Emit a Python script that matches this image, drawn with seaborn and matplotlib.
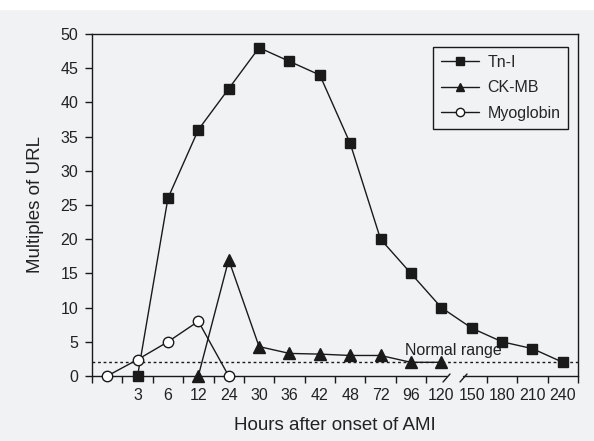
import numpy as np
import pandas as pd
import matplotlib
matplotlib.use("Agg")
import matplotlib.pyplot as plt
from matplotlib.patches import Rectangle
import seaborn as sns

# ── data ──────────────────────────────────────────
slot_labels = ["", "3", "6", "12", "24", "30", "36", "42", "48",
               "72", "96", "120", "150", "180", "210", "240"]

tn_hours = ["3", "6", "12", "24", "30", "36", "42", "48", "72",
            "96", "120", "150", "180", "210", "240"]
tn_values = [0, 26, 36, 42, 48, 46, 44, 34, 20, 15, 10, 7, 5, 4, 2]

ck_hours = ["12", "24", "30", "36", "42", "48", "72", "96", "120"]
ck_values = [0, 17, 4.3, 3.3, 3.2, 3.0, 3.0, 2.0, 2.0]

myo_hours = ["", "3", "6", "12", "24"]
myo_values = [0, 2.4, 5, 8, 0]

normal_level = 2.1

# ── style ─────────────────────────────────────────
bg = "#f1f2f4"
ink = "#1a1a1a"
sns.set_theme(style="white")
plt.rcParams["font.family"] = ["Liberation Sans", "DejaVu Sans"]

slot_of = {lab: i for i, lab in enumerate(slot_labels)}

fig = plt.figure(figsize=(5.94, 4.41), dpi=100, facecolor=bg)
ax = fig.add_axes([0.1549, 0.1474, 0.8182, 0.7755])
ax.set_facecolor(bg)
fig.add_artist(Rectangle((0, 0.979), 1, 0.021, transform=fig.transFigure,
                         color="white", zorder=0))

series = [
    ("Tn-I", tn_hours, tn_values, "s", ink, 7.5),
    ("CK-MB", ck_hours, ck_values, "^", ink, 8),
    ("Myoglobin", myo_hours, myo_values, "o", "white", 7.5),
]
for name, hrs, vals, mk, fc, ms in series:
    df = pd.DataFrame({"x": [slot_of[h] for h in hrs], "y": vals})
    sns.lineplot(data=df, x="x", y="y", ax=ax, color=ink, lw=1.0,
                 marker=mk, markersize=ms, markerfacecolor=fc,
                 markeredgecolor=ink, markeredgewidth=1.0,
                 label=name, clip_on=False, zorder=3)

ax.axhline(normal_level, color=ink, lw=1.0, ls=(0, (2, 2)), zorder=2)
ax.text(9.8, 3.0, "Normal range", fontsize=11.5, color="#222222", zorder=2)

ax.set_xlim(-0.5, len(slot_labels) - 0.5)
ax.set_ylim(0, 50)
ax.set_yticks(np.arange(0, 51, 5))
ax.set_xticks(range(len(slot_labels)))
ax.set_xticklabels(slot_labels)
bounds = [b - 0.5 for b in range(len(slot_labels) + 1) if b != 12]
ax.set_xticks(bounds, minor=True)
ax.tick_params(axis="x", which="major", length=0, labelsize=11.5,
               colors="#222222", pad=9)
ax.tick_params(axis="x", which="minor", length=5, width=1, color=ink,
               direction="out", bottom=True)
ax.tick_params(axis="y", length=5, width=1, color=ink, direction="out",
               left=True, labelsize=11.5, colors="#222222", pad=5)

for s in ["left", "top", "right"]:
    ax.spines[s].set_color(ink)
    ax.spines[s].set_linewidth(1.0)
ax.spines["bottom"].set_visible(False)

# bottom axis with break
brk0, brk1 = (447 - 92) / 486, (463 - 92) / 486
ax.plot([0, brk0], [0, 0], transform=ax.transAxes, color=ink, lw=1.0,
        clip_on=False)
ax.plot([brk1, 1], [0, 0], transform=ax.transAxes, color=ink, lw=1.0,
        clip_on=False)
for x0 in [(443 - 92) / 486, (460 - 92) / 486]:
    ax.plot([x0, x0 + 7 / 486], [-6 / 342, 2 / 342], transform=ax.transAxes,
            color=ink, lw=1.0, clip_on=False)

ax.set_xlabel("Hours after onset of AMI", fontsize=13.5, color="#222222",
              labelpad=10)
ax.set_ylabel("Multiples of URL", fontsize=13.5, color="#222222", labelpad=12)

leg = ax.legend(loc="upper right", bbox_to_anchor=(0.98, 0.962),
                fontsize=11.5, frameon=True, fancybox=False, edgecolor=ink,
                facecolor=bg, framealpha=1, handlelength=2.4,
                handletextpad=0.5, borderpad=0.5, labelspacing=0.65,
                borderaxespad=0, markerscale=0.8)
leg.get_frame().set_linewidth(1.0)

fig.savefig("out.png", dpi=100, facecolor=bg)
